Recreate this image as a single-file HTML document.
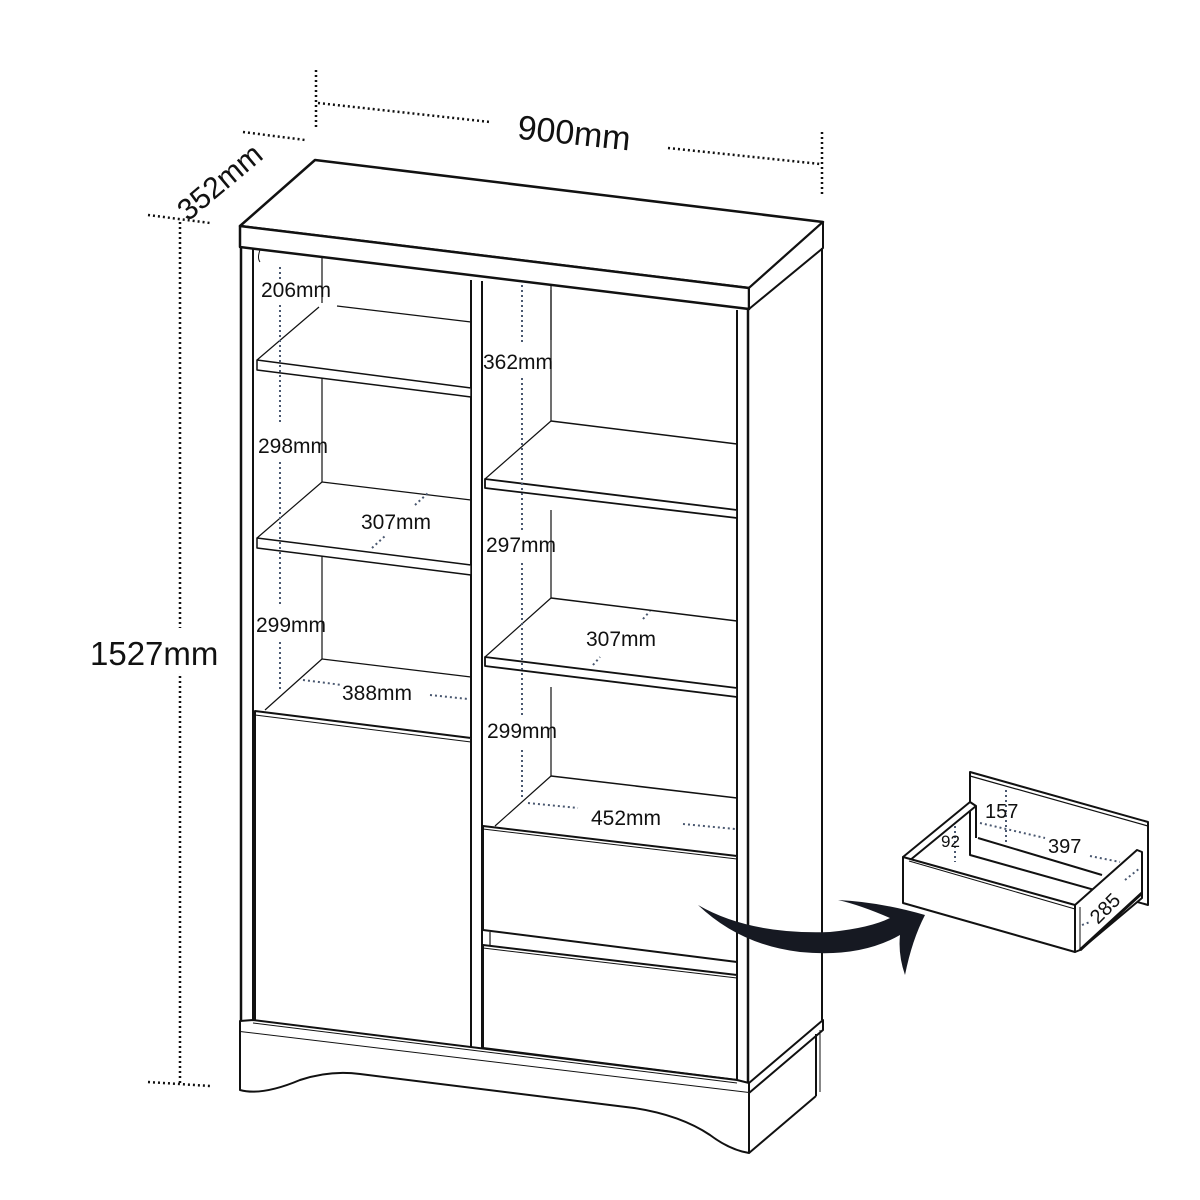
<!DOCTYPE html>
<html><head><meta charset="utf-8"><style>
html,body{margin:0;padding:0;background:#fff}
svg{display:block}
text{font-family:"Liberation Sans",sans-serif;fill:#111}
</style></head><body>
<svg width="1200" height="1200" viewBox="0 0 1200 1200" xmlns="http://www.w3.org/2000/svg">
<g fill="none" stroke="#111" stroke-width="2" stroke-linejoin="round">
<!-- top slab -->
<polygon points="240,226 315,160 823,222 749,288" fill="#fff" stroke-width="2.5"/>
<polygon points="240,226 749,288 749,309 240,247" fill="#fff" stroke-width="2.5"/>
<polygon points="749,288 823,222 823,248 749,309" fill="#fff" stroke-width="2"/>
<!-- body outer -->
<line x1="241" y1="247" x2="241" y2="1021" stroke-width="2.5"/>
<line x1="253" y1="249" x2="253" y2="1022"/>
<line x1="822" y1="248" x2="822" y2="1020" stroke-width="2"/>
<line x1="737" y1="310" x2="737" y2="1081"/>
<line x1="748" y1="309" x2="748" y2="1082" stroke-width="2.5"/>
<!-- divider -->
<line x1="471" y1="280" x2="471" y2="1048"/>
<line x1="482" y1="281" x2="482" y2="1050"/>
<!-- left back verticals -->
<line x1="322" y1="258" x2="322" y2="303" stroke-width="1.2"/>
<line x1="322" y1="378" x2="322" y2="482" stroke-width="1.2"/>
<line x1="322" y1="556" x2="322" y2="659" stroke-width="1.2"/>
<line x1="551" y1="285" x2="551" y2="340" stroke-width="1.2"/>
<line x1="551" y1="290" x2="551" y2="421" stroke-width="1.2"/>
<line x1="551" y1="510" x2="551" y2="598" stroke-width="1.2"/>
<line x1="551" y1="687" x2="551" y2="776" stroke-width="1.2"/>
<!-- left shelves -->
<line x1="337" y1="306" x2="471" y2="322" stroke-width="1.2"/>
<line x1="257" y1="360" x2="319" y2="307" stroke-width="1.2"/>
<polygon points="257,360 471,388 471,397 257,370" fill="#fff" stroke-width="1.5"/>
<line x1="322" y1="482" x2="471" y2="500" stroke-width="1.2"/>
<line x1="257" y1="538" x2="322" y2="482" stroke-width="1.2"/>
<polygon points="257,538 471,565 471,575 257,548" fill="#fff" stroke-width="1.5"/>
<line x1="322" y1="659" x2="471" y2="677" stroke-width="1.2"/>
<line x1="265" y1="710" x2="322" y2="659" stroke-width="1.2"/>
<!-- door -->
<polygon points="255,711 471,738 471,1048 255,1022" fill="#fff" stroke-width="2"/>
<line x1="255" y1="715" x2="471" y2="742" stroke-width="1"/>
<!-- right shelves -->
<line x1="551" y1="421" x2="737" y2="444" stroke-width="1.5"/>
<line x1="485" y1="479" x2="551" y2="421" stroke-width="1.2"/>
<polygon points="485,479 737,510 737,518 485,488" fill="#fff" stroke-width="1.8"/>
<line x1="551" y1="598" x2="737" y2="621" stroke-width="1.5"/>
<line x1="485" y1="657" x2="551" y2="598" stroke-width="1.2"/>
<polygon points="485,657 737,688 737,697 485,666" fill="#fff" stroke-width="1.8"/>
<line x1="551" y1="776" x2="737" y2="798" stroke-width="1.5"/>
<line x1="495" y1="826" x2="551" y2="776" stroke-width="1.2"/>
<!-- drawers -->
<polygon points="483,826 737,856 737,962 483,930" fill="#fff" stroke-width="2"/>
<line x1="483" y1="829" x2="737" y2="859" stroke-width="1"/>
<polygon points="483,945 737,975 737,1080 483,1048" fill="#fff" stroke-width="2"/>
<line x1="483" y1="948" x2="737" y2="978" stroke-width="1"/>
<line x1="490" y1="932" x2="490" y2="945" stroke-width="1.2"/>
<!-- base rail -->
<polygon points="240,1021 253,1020 737,1080 749,1083 749,1093 240,1032" fill="#fff" stroke-width="2"/>
<polygon points="749,1083 823,1020 823,1030 749,1093" fill="#fff" stroke-width="2"/>
<line x1="253" y1="1023" x2="737" y2="1083" stroke-width="1"/>
<!-- base -->
<path d="M240,1032 L240,1090 Q262,1096 300,1080 Q330,1070 360,1074 L634,1108 Q680,1115 710,1135 Q730,1150 749,1153 L749,1093" fill="#fff" stroke-width="2"/>
<line x1="749" y1="1153" x2="816" y2="1096" stroke-width="2"/>
<line x1="816" y1="1034" x2="816" y2="1096" stroke-width="2"/>
<line x1="820" y1="1030" x2="820" y2="1092" stroke-width="1"/>
<path d="M260,250 q-3,8 0,12" stroke-width="1"/>
</g>

<!-- dotted dimension lines -->
<g fill="none" stroke="#111" stroke-width="2.5" stroke-dasharray="2 3">
<line x1="316" y1="70" x2="316" y2="130"/>
<line x1="318" y1="103" x2="490" y2="122"/>
<line x1="668" y1="148" x2="820" y2="164"/>
<line x1="822" y1="132" x2="822" y2="195"/>
<line x1="243" y1="132" x2="305" y2="140"/>
<line x1="148" y1="215" x2="210" y2="223"/>
<line x1="180" y1="222" x2="180" y2="628"/>
<line x1="180" y1="676" x2="180" y2="1085"/>
<line x1="148" y1="1082" x2="210" y2="1086"/>
</g>
<g fill="none" stroke="#4a5870" stroke-width="2" stroke-dasharray="2 3">
<line x1="280" y1="267" x2="280" y2="280"/>
<line x1="280" y1="305" x2="280" y2="425"/>
<line x1="280" y1="462" x2="280" y2="605"/>
<line x1="280" y1="642" x2="280" y2="690"/>
<line x1="303" y1="680" x2="342" y2="685"/>
<line x1="430" y1="695" x2="468" y2="699"/>
<line x1="372" y1="548" x2="385" y2="536"/>
<line x1="415" y1="505" x2="428" y2="493"/>
<line x1="522" y1="285" x2="522" y2="345"/>
<line x1="522" y1="378" x2="522" y2="530"/>
<line x1="522" y1="563" x2="522" y2="715"/>
<line x1="522" y1="750" x2="522" y2="800"/>
<line x1="528" y1="803" x2="578" y2="808"/>
<line x1="683" y1="824" x2="735" y2="829"/>
<line x1="593" y1="665" x2="600" y2="657"/>
<line x1="643" y1="619" x2="650" y2="611"/>
</g>

<!-- labels -->
<g font-size="21">
<text x="261" y="297">206mm</text>
<text x="258" y="453">298mm</text>
<text x="361" y="529">307mm</text>
<text x="256" y="632">299mm</text>
<text x="342" y="700">388mm</text>
<text x="483" y="369">362mm</text>
<text x="486" y="552">297mm</text>
<text x="586" y="646">307mm</text>
<text x="487" y="738">299mm</text>
<text x="591" y="825">452mm</text>
</g>
<text x="90" y="665" font-size="33">1527mm</text>
<text x="517" y="145" font-size="34" transform="rotate(6 578 138)">900mm</text>
<text x="0" y="0" font-size="30" transform="translate(188 222) rotate(-40)">352mm</text>

<!-- arrow -->
<path d="M698,905 Q750,935 830,932 Q870,928 890,918 Q860,905 838,900 Q880,902 925,915 Q912,940 905,975 Q898,955 900,935 Q860,958 800,952 Q740,945 698,905 Z" fill="#161922"/>

<!-- drawer inset -->
<g fill="#fff" stroke="#111" stroke-width="2" stroke-linejoin="round">
<polygon points="970,772 1148,822 1148,905 970,855"/>
<line x1="970" y1="776" x2="1148" y2="826" stroke-width="1.2"/>
<polygon points="903,857 970,802 976,806 909,861"/>
<line x1="976" y1="806" x2="976" y2="838"/>
<line x1="978" y1="838" x2="1102" y2="875"/>
<polygon points="903,857 1075,905 1075,952 903,903"/>
<line x1="909" y1="861" x2="1075" y2="909" stroke-width="1"/>
<polygon points="1075,905 1137,850 1142,852 1142,898 1080,950 1075,952"/>
<line x1="1080" y1="907" x2="1080" y2="950" stroke-width="1"/>
<line x1="1080" y1="950" x2="1142" y2="893" stroke-width="3"/>
</g>
<g fill="none" stroke="#4a5870" stroke-width="2" stroke-dasharray="2 3">
<line x1="1006" y1="790" x2="1006" y2="845"/>
<line x1="980" y1="823" x2="1045" y2="838"/>
<line x1="1090" y1="856" x2="1120" y2="862"/>
<line x1="955" y1="826" x2="955" y2="862"/>
<line x1="1082" y1="925" x2="1090" y2="922"/>
<line x1="1125" y1="880" x2="1140" y2="868"/>
</g>
<text x="985" y="818" font-size="20">157</text>
<text x="1048" y="853" font-size="20">397</text>
<text x="941" y="847" font-size="17">92</text>
<text x="0" y="0" font-size="20" transform="translate(1098 925) rotate(-45)">285</text>
</svg>
</body></html>
